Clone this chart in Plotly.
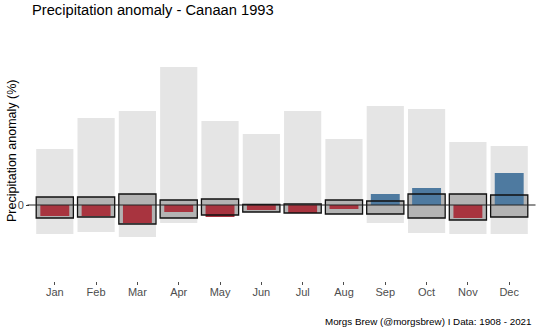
import plotly.graph_objects as go

months = ["Jan", "Feb", "Mar", "Apr", "May", "Jun", "Jul", "Aug", "Sep", "Oct", "Nov", "Dec"]
range_max = [168, 261, 282, 414, 252, 213, 282, 198, 297, 288, 189, 177]
range_min = [-87, -81, -96, -54, -31, -21, -24, -27, -54, -84, -87, -87]
q75 = [24, 24, 33, 15, 18, 1.5, 3, 15, 12, 33, 33, 30]
q25 = [-39, -36, -57, -39, -30, -21, -24, -27, -27, -39, -45, -36]
anom_1993 = [-33, -33, -54, -21, -36, -15, -24, -12, 33, 51, -39, 96]

RED = "#a8343f"
BLUE = "#4e7aa0"

W, H = 540, 331
L, R, T, B = 30, 6, 30, 50

fig = go.Figure()
fig.add_trace(go.Bar(
    x=months, y=[a - b for a, b in zip(range_max, range_min)], base=range_min,
    width=0.9, marker=dict(color="#e5e5e5", line=dict(width=0)), hoverinfo="skip"))
fig.add_trace(go.Bar(
    x=months, y=[a - b for a, b in zip(q75, q25)], base=q25,
    width=0.9, marker=dict(color="#b3b3b3", line=dict(width=0)), hoverinfo="skip"))
fig.add_trace(go.Bar(
    x=months, y=anom_1993, base=[0] * 12, width=0.7,
    marker=dict(color=[RED if v < 0 else BLUE for v in anom_1993], line=dict(width=0))))
fig.add_trace(go.Bar(
    x=months, y=[a - b for a, b in zip(q75, q25)], base=q25,
    width=0.9, marker=dict(color="rgba(0,0,0,0)", line=dict(width=1.3, color="#111111")),
    hoverinfo="skip"))

fig.add_shape(type="line", xref="paper", yref="y", x0=-0.005, x1=1.003, y0=0, y1=0,
              line=dict(color="#222222", width=1.1), layer="above")

fig.update_layout(
    width=W, height=H, barmode="overlay", showlegend=False,
    plot_bgcolor="white", paper_bgcolor="white",
    margin=dict(l=L, r=R, t=T, b=B),
    font=dict(family="Liberation Sans, Arial, sans-serif"),
    xaxis=dict(showgrid=False, zeroline=False, showline=False, ticks="outside", ticklen=3,
               tickcolor="#4d4d4d", tickfont=dict(size=11, color="#4d4d4d"),
               ticklabelstandoff=-2, range=[-0.6, 11.6]),
    yaxis=dict(showgrid=False, zeroline=False, showline=False, ticks="outside", ticklen=3,
               tickcolor="#333333", tickvals=[0], ticktext=["0"],
               tickfont=dict(size=11, color="#4d4d4d"), range=[-228, 525]),
    annotations=[
        dict(text="Precipitation anomaly - Canaan 1993", xref="paper", yref="paper",
             x=0, y=1, yshift=20, xanchor="left", yanchor="middle", showarrow=False,
             font=dict(size=14.7, color="black")),
        dict(text="Precipitation anomaly (%)", xref="paper", yref="paper",
             x=0, xshift=-18, y=0.518, textangle=-90, xanchor="center", yanchor="middle",
             showarrow=False, font=dict(size=12.5, color="black")),
        dict(text="Morgs Brew (@morgsbrew) I Data: 1908 - 2021", xref="paper", yref="paper",
             x=1, y=0, yshift=-40, xanchor="right", yanchor="middle", showarrow=False,
             font=dict(size=9.8, color="black")),
    ],
)

fig.write_html("out.html")
